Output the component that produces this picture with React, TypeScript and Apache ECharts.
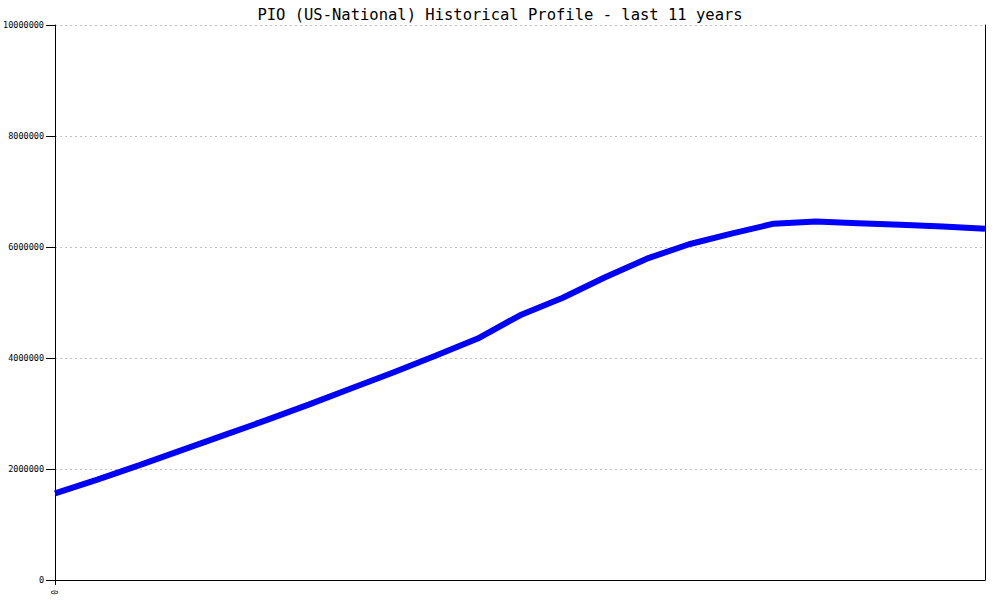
import React, { useEffect, useRef } from "react";
import * as echarts from "echarts";

const titleText = "PIO (US-National) Historical Profile - last 11 years";
// semi-annual observations over 11 years (index 0 = start)
const periods = ["0","1","2","3","4","5","6","7","8","9","10","11","12","13","14","15","16","17","18","19","20","21","22"];
const xTickLabels = ["0"];
const values = [
  1560000, 1810000, 2070000, 2340000, 2610000, 2880000, 3160000, 3450000,
  3740000, 4040000, 4350000, 4770000, 5080000, 5450000, 5790000, 6050000,
  6240000, 6420000, 6460000, 6430000, 6400000, 6370000, 6330000,
];
const yMin = 0;
const yMax = 10000000;
const yStep = 2000000;

export default function App() {
  const ref = useRef<HTMLDivElement>(null);
  useEffect(() => {
    if (!ref.current) return;
    const chart = echarts.init(ref.current, undefined, { renderer: "svg" });
    const font = "'DejaVu Sans Mono', monospace";
    chart.setOption({
      animation: false,
      backgroundColor: "#ffffff",
      title: {
        text: titleText,
        left: "center",
        top: 2,
        textStyle: { fontFamily: font, fontSize: 15.5, fontWeight: "normal", color: "#000" },
      },
      grid: { left: 55, right: 15, top: 25, bottom: 20, containLabel: false },
      xAxis: {
        type: "category",
        data: periods,
        boundaryGap: false,
        axisLine: { show: true, lineStyle: { color: "#000", width: 1 } },
        axisTick: { show: true, interval: (i: number) => i === 0, length: 5, lineStyle: { color: "#000" } },
        axisLabel: {
          interval: (i: number) => i === 0,
          rotate: 90,
          formatter: (_v: string, i: number) => (i === 0 ? xTickLabels[0] : ""),
          fontFamily: font,
          fontSize: 8,
          color: "#000",
          margin: 10,
        },
        splitLine: { show: false },
      },
      yAxis: [
        {
          type: "value",
          min: yMin,
          max: yMax,
          interval: yStep,
          axisLine: { show: true, lineStyle: { color: "#000", width: 1 } },
          axisTick: { show: true, length: 9, lineStyle: { color: "#000" } },
          axisLabel: {
            formatter: (v: number) => String(v),
            fontFamily: font,
            fontSize: 8.5,
            color: "#000",
            margin: 11,
          },
          splitLine: { show: true, lineStyle: { color: "#c0c0c0", type: [2, 3], width: 1 } },
        },
        {
          type: "value",
          position: "right",
          min: yMin,
          max: yMax,
          interval: yStep,
          axisLine: { show: true, lineStyle: { color: "#000", width: 1 } },
          axisTick: { show: false },
          axisLabel: { show: false },
          splitLine: { show: false },
        },
      ],
      series: [
        {
          type: "line",
          data: values,
          yAxisIndex: 0,
          symbol: "none",
          lineStyle: { color: "#0000ff", width: 6 },
        },
      ],
    });
    return () => chart.dispose();
  }, []);
  return (
    <div
      ref={ref}
      style={{ position: "fixed", left: 0, top: 0, width: 1000, height: 600 }}
    />
  );
}
